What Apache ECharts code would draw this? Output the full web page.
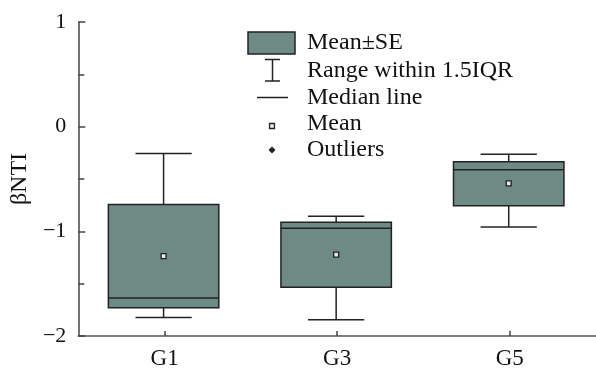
<!DOCTYPE html>
<html>
<head>
<meta charset="utf-8">
<script src="https://cdn.jsdelivr.net/npm/echarts@6/dist/echarts.min.js"></script>
<style>
html,body{margin:0;padding:0;background:#fff;}
#c{width:596px;height:370px;}
</style>
</head>
<body>
<div id="c"></div>
<script>
// Data
const categories = ['G1', 'G3', 'G5'];
const whiskerLow  = [-1.823, -1.845, -0.959];
const boxLow      = [-1.731, -1.535, -0.756];
const median      = [-1.636, -0.971, -0.411];
const boxHigh     = [-0.743, -0.914, -0.335];
const whiskerHigh = [-0.256, -0.857, -0.263];
const mean        = [-1.237, -1.222, -0.541];
const yTicks = [-2, -1, 0, 1];

const FONT = '"Liberation Serif", "Times New Roman", serif';
const FILL = '#6e8a84';
const INK = '#222';

const seriesData = categories.map((c, i) => [i, whiskerLow[i], boxLow[i], median[i], boxHigh[i], whiskerHigh[i], mean[i]]);

const chart = echarts.init(document.getElementById('c'), null, {renderer: 'canvas'});

function renderItem(params, api) {
  const x = api.value(0);
  const band = api.size([1, 0])[0];
  const bw = band * 0.64, cw = band * 0.326;
  const cx = api.coord([x, 0])[0] - 1;
  const yWL = api.coord([x, api.value(1)])[1];
  const yBL = api.coord([x, api.value(2)])[1];
  const yMd = api.coord([x, api.value(3)])[1];
  const yBH = api.coord([x, api.value(4)])[1];
  const yWH = api.coord([x, api.value(5)])[1];
  const yMn = api.coord([x, api.value(6)])[1];
  const ls = {stroke: INK, lineWidth: 1.5};
  const ms = 5;
  return {
    type: 'group',
    children: [
      {type: 'line', shape: {x1: cx, y1: yWH, x2: cx, y2: yBH}, style: ls},
      {type: 'line', shape: {x1: cx, y1: yBL, x2: cx, y2: yWL}, style: ls},
      {type: 'line', shape: {x1: cx - cw / 2, y1: yWH, x2: cx + cw / 2, y2: yWH}, style: ls},
      {type: 'line', shape: {x1: cx - cw / 2, y1: yWL, x2: cx + cw / 2, y2: yWL}, style: ls},
      {type: 'rect', shape: {x: cx - bw / 2, y: yBH, width: bw, height: yBL - yBH}, style: {fill: FILL, stroke: INK, lineWidth: 1.5}},
      {type: 'line', shape: {x1: cx - bw / 2, y1: yMd, x2: cx + bw / 2, y2: yMd}, style: ls},
      {type: 'rect', shape: {x: cx - ms / 2, y: yMn - ms / 2, width: ms, height: ms}, style: {fill: '#e6e6e6', stroke: INK, lineWidth: 1.3}}
    ]
  };
}

const legendX = 307;
const legendFont = '24px ' + FONT;
function legText(t, y) {
  return {type: 'text', x: legendX, y: y, style: {text: t, font: legendFont, fill: '#111', verticalAlign: 'middle', textVerticalAlign: 'middle'}};
}

const option = {
  animation: false,
  backgroundColor: '#fff',
  grid: {left: 75, top: 22, width: 525, height: 316},
  xAxis: {
    type: 'category',
    data: categories,
    boundaryGap: true,
    axisLine: {onZero: false, lineStyle: {color: '#555', width: 1.5}},
    axisTick: {show: true, inside: true, alignWithLabel: true, length: 5, lineStyle: {color: '#444', width: 1.5}},
    axisLabel: {color: '#111', fontFamily: FONT, fontSize: 23, margin: 11},
    splitLine: {show: false}
  },
  yAxis: {
    type: 'value',
    min: -2, max: 1, interval: 1,
    name: 'βNTI',
    nameLocation: 'middle',
    nameGap: 38,
    nameTextStyle: {color: '#111', fontFamily: FONT, fontSize: 24},
    axisLine: {show: true, lineStyle: {color: '#444', width: 1.5}},
    axisTick: {show: true, inside: true, length: 7, lineStyle: {color: '#444', width: 1.5}},
    minorTick: {show: true, splitNumber: 2, length: 6, lineStyle: {color: '#444', width: 1.5}},
    axisLabel: {color: '#111', fontFamily: FONT, fontSize: 22, margin: 12,
      formatter: v => (yTicks.indexOf(v) >= 0 ? String(v).replace('-', '\u2212') : '')},
    splitLine: {show: false}
  },
  series: [{
    type: 'custom',
    renderItem: renderItem,
    data: seriesData,
    encode: {x: 0, y: [1, 5]},
    clip: false
  }],
  graphic: [
    {type: 'rect', shape: {x: 248, y: 32, width: 47, height: 22}, style: {fill: FILL, stroke: INK, lineWidth: 1.5}},
    legText('Mean±SE', 43),
    {type: 'line', shape: {x1: 265, y1: 59.5, x2: 280, y2: 59.5}, style: {stroke: INK, lineWidth: 1.5}},
    {type: 'line', shape: {x1: 272.5, y1: 59.5, x2: 272.5, y2: 81}, style: {stroke: INK, lineWidth: 1.5}},
    {type: 'line', shape: {x1: 265, y1: 81, x2: 280, y2: 81}, style: {stroke: INK, lineWidth: 1.5}},
    legText('Range within 1.5IQR', 71),
    {type: 'line', shape: {x1: 257, y1: 97.5, x2: 288, y2: 97.5}, style: {stroke: INK, lineWidth: 1.5}},
    legText('Median line', 98),
    {type: 'rect', shape: {x: 269.5, y: 123.5, width: 5, height: 5}, style: {fill: '#e6e6e6', stroke: INK, lineWidth: 1.3}},
    legText('Mean', 124),
    {type: 'polygon', shape: {points: [[272, 146.5], [275.5, 150], [272, 153.5], [268.5, 150]]}, style: {fill: INK}},
    legText('Outliers', 150)
  ]
};
chart.setOption(option);
</script>
</body>
</html>
